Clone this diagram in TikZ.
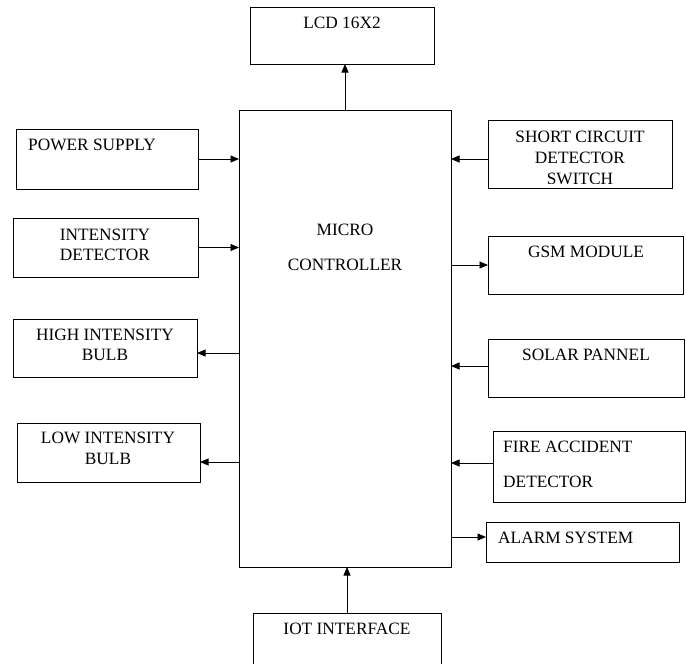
\documentclass[tikz,border=0pt]{standalone}
\usepackage{fontspec}
\setmainfont{Liberation Serif}
\usetikzlibrary{arrows.meta,calc}
\begin{document}
\begin{tikzpicture}[x=1pt,y=-1pt,
  box/.style={draw,line width=0.8pt,inner sep=0pt,outer sep=0pt},
  txt/.style={anchor=base,inner sep=0pt,font=\fontsize{17.3}{21}\selectfont},
  ltxt/.style={txt,anchor=base west},
  arr/.style={line width=0.8pt,-{Triangle[length=8.5pt,width=7pt]}}]
\clip (0,0) rectangle (686,664);
\fill[white] (0,0) rectangle (686,664);
% boxes
\node[box,minimum width=184pt,minimum height=57pt] (lcd) at (342,35.5) {};
\node[box,minimum width=212pt,minimum height=457pt] (mc) at (345,338.5) {};
\node[box,minimum width=182pt,minimum height=60pt] (ps) at (107,159) {};
\node[box,minimum width=185pt,minimum height=59pt] (id) at (105.5,247.5) {};
\node[box,minimum width=184pt,minimum height=58pt] (hb) at (105,348) {};
\node[box,minimum width=183pt,minimum height=59pt] (lb) at (108.5,452.5) {};
\node[box,minimum width=184pt,minimum height=68pt] (sc) at (580,154) {};
\node[box,minimum width=195pt,minimum height=58pt] (gsm) at (585.5,265) {};
\node[box,minimum width=196pt,minimum height=58pt] (sp) at (586,368) {};
\node[box,minimum width=192pt,minimum height=71pt] (fa) at (589,466.5) {};
\node[box,minimum width=193pt,minimum height=40pt] (al) at (582.5,542) {};
\node[box,minimum width=188pt,minimum height=90pt] (iot) at (347,658) {};
% texts
\node[txt] (tlcd) at (342,28.6) {LCD 16X2};
\node[txt] (tmc1) at (345,235.6) {MICRO};
\node[txt] (tmc2) at (345,270.6) {CONTROLLER};
\node[txt] (tps) at (92,150.6) {POWER SUPPLY};
\node[txt] (tid1) at (105,240.6) {INTENSITY};
\node[txt] (tid2) at (105,260.6) {DETECTOR};
\node[txt] (thb1) at (105,340.6) {HIGH INTENSITY};
\node[txt] (thb2) at (105,360.6) {BULB};
\node[txt] (tlb1) at (108,443.6) {LOW INTENSITY};
\node[txt] (tlb2) at (108,464.6) {BULB};
\node[txt] (tsc1) at (580,142.6) {SHORT CIRCUIT};
\node[txt] (tsc2) at (580,163.6) {DETECTOR};
\begin{scope}
\clip (490,120) rectangle (670,183);
\node[txt] (tsc3) at (580,184.6) {SWITCH};
\end{scope}
\node[txt] (tgsm) at (586,257.6) {GSM MODULE};
\node[txt] (tsp) at (586,360.6) {SOLAR PANNEL};
\node[ltxt] (tfa1) at (503,452.6) {FIRE ACCIDENT};
\node[ltxt] (tfa2) at (503,487.6) {DETECTOR};
\node[ltxt] (tal) at (498,543.6) {ALARM SYSTEM};
\node[txt] (tiot) at (347,634.6) {IOT INTERFACE};
% arrow rows
\coordinate (hbin) at ($(hb.east)+(0,5)$);
\coordinate (lbin) at ($(lb.east)+(0,9.5)$);
\coordinate (scout) at ($(sc.west)+(0,5)$);
\coordinate (spout) at ($(sp.west)+(0,-2)$);
\coordinate (faout) at ($(fa.west)+(0,-3.5)$);
\coordinate (alin) at ($(al.west)+(0,-5)$);
% connectors
\draw[arr] (mc.north) -- (mc.north |- lcd.south);
\draw[arr] (iot.north) -- (iot.north |- mc.south);
\draw[arr] (ps.east) -- (ps.east -| mc.west);
\draw[arr] (id.east) -- (id.east -| mc.west);
\draw[arr] (mc.west |- hbin) -- (hbin);
\draw[arr] (mc.west |- lbin) -- (lbin);
\draw[arr] (scout) -- (scout -| mc.east);
\draw[arr] (mc.east |- gsm.west) -- (gsm.west);
\draw[arr] (spout) -- (spout -| mc.east);
\draw[arr] (faout) -- (faout -| mc.east);
\draw[arr] (mc.east |- alin) -- (alin);
\end{tikzpicture}
\end{document}
